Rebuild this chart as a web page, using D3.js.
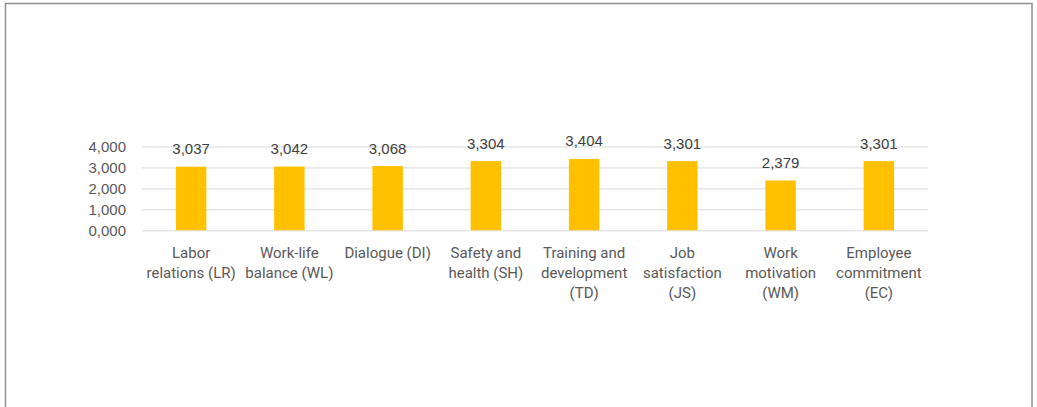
<!DOCTYPE html>
<html>
<head>
<meta charset="utf-8">
<script src="https://cdn.jsdelivr.net/npm/d3@7"></script>
<style>
  body { margin: 0; background: #fff; }
  svg { display: block; }
  .tick text { font-family: "Liberation Sans", Arial, sans-serif; font-size: 15px; fill: #595959; }
  .value { font-family: "Liberation Sans", Arial, sans-serif; font-size: 15px; fill: #404040; }
  .cat { font-family: Roboto, "Liberation Sans", sans-serif; font-size: 15px; fill: #595959; }
</style>
</head>
<body>
<svg width="1037" height="407"></svg>
<script>
const categories = [
  ["Labor", "relations (LR)"],
  ["Work-life", "balance (WL)"],
  ["Dialogue (DI)"],
  ["Safety and", "health (SH)"],
  ["Training and", "development", "(TD)"],
  ["Job", "satisfaction", "(JS)"],
  ["Work", "motivation", "(WM)"],
  ["Employee", "commitment", "(EC)"]
];
const values = [3.037, 3.042, 3.068, 3.304, 3.404, 3.301, 2.379, 3.301];
const yTicks = [0, 1, 2, 3, 4];

const svg = d3.select("svg");

// chart frame (bottom edge runs past the picture)
svg.append("rect")
  .attr("x", 5.5).attr("y", 3.5)
  .attr("width", 1026.5).attr("height", 420)
  .attr("fill", "none")
  .attr("stroke", "#8f8f8f")
  .attr("stroke-width", 1.5);

const plotLeft = 142, plotRight = 928, plotTop = 146.5, plotBottom = 230.3;

const xScale = d3.scaleBand()
  .domain(d3.range(categories.length))
  .range([plotLeft, plotRight])
  .paddingInner(0.69)
  .paddingOuter(0.345);

const yScale = d3.scaleLinear()
  .domain([0, 4])
  .range([plotBottom, plotTop]);

const fmt = (v) => v.toFixed(3).replace(".", ",");

// gridlines + y labels
const yAxis = svg.append("g")
  .attr("transform", `translate(${plotLeft},0)`)
  .call(d3.axisLeft(yScale).tickValues(yTicks).tickFormat(fmt).tickSize(-(plotRight - plotLeft)).tickPadding(16));
yAxis.select(".domain").remove();
yAxis.selectAll(".tick line").attr("stroke", "#d9d9d9").attr("stroke-width", 1);

// bars
svg.append("g")
  .selectAll("rect")
  .data(values)
  .enter()
  .append("rect")
  .attr("x", (d, i) => xScale(i))
  .attr("y", (d) => yScale(d))
  .attr("width", xScale.bandwidth())
  .attr("height", (d) => yScale(0) - yScale(d))
  .attr("fill", "#ffc000");

// value labels
svg.append("g")
  .selectAll("text")
  .data(values)
  .enter()
  .append("text")
  .attr("class", "value")
  .attr("x", (d, i) => xScale(i) + xScale.bandwidth() / 2)
  .attr("y", (d) => yScale(d) - 12.5)
  .attr("text-anchor", "middle")
  .text((d) => fmt(d));

// category labels
const catG = svg.append("g")
  .selectAll("text")
  .data(categories)
  .enter()
  .append("text")
  .attr("class", "cat")
  .attr("text-anchor", "middle")
  .attr("x", (d, i) => xScale(i) + xScale.bandwidth() / 2)
  .attr("y", 257.5);

catG.selectAll("tspan")
  .data((d, i) => d.map((line) => ({ line, i })))
  .enter()
  .append("tspan")
  .attr("x", (d) => xScale(d.i) + xScale.bandwidth() / 2)
  .attr("dy", (d, j) => (j === 0 ? 0 : 20))
  .text((d) => d.line);
</script>
</body>
</html>
